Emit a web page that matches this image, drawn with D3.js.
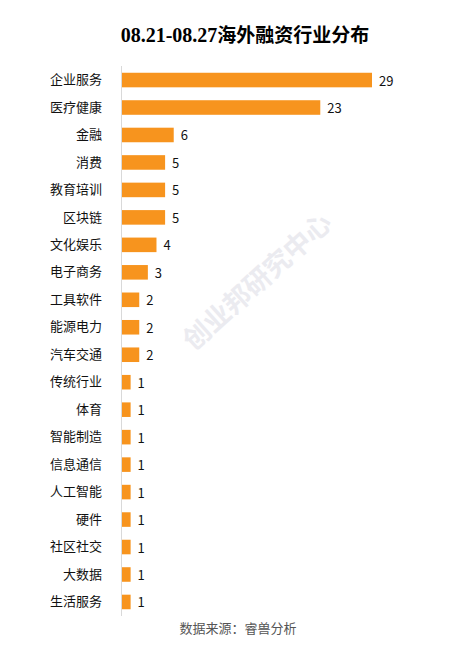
<!DOCTYPE html>
<html>
<head>
<meta charset="utf-8">
<script src="https://cdn.jsdelivr.net/npm/d3@7"></script>
<style>
  body { margin: 0; background: #fff; }
  svg text { font-family: "Microsoft YaHei", "Noto Sans CJK SC", sans-serif; }
</style>
</head>
<body>
<div id="chart"></div>
<script>
const categories = ["企业服务", "医疗健康", "金融", "消费", "教育培训", "区块链", "文化娱乐", "电子商务", "工具软件", "能源电力", "汽车交通", "传统行业", "体育", "智能制造", "信息通信", "人工智能", "硬件", "社区社交", "大数据", "生活服务"];
const values = [29, 23, 6, 5, 5, 5, 4, 3, 2, 2, 2, 1, 1, 1, 1, 1, 1, 1, 1, 1];

const width = 465, height = 653;
const svg = d3.select("#chart").append("svg")
  .attr("width", width)
  .attr("height", height);

// watermark
svg.append("text")
  .attr("transform", "translate(256,280) rotate(-42)")
  .attr("text-anchor", "middle")
  .attr("dominant-baseline", "central")
  .style("font-size", "27px")
  .style("font-weight", "bold")
  .attr("fill", "#ebebf0")
  .text("创业邦研究中心");

// title
const title = svg.append("text")
  .attr("x", 245)
  .attr("y", 42)
  .attr("text-anchor", "middle")
  .style("font-size", "19px")
  .style("font-weight", "bold")
  .attr("fill", "#000");
title.append("tspan").style("font-family", "'Liberation Serif', serif").style("font-size", "20px").text("08.21-08.27");
title.append("tspan").text("海外融资行业分布");

const x = d3.scaleLinear().domain([0, 29]).range([122, 372]);
const y = d3.scaleBand().domain(categories).range([66.3, 615.7]).paddingInner(0.47).paddingOuter(0.235);

svg.append("g")
  .selectAll("rect")
  .data(values)
  .join("rect")
  .attr("x", x(0))
  .attr("y", (d, i) => y(categories[i]))
  .attr("width", d => x(d) - x(0))
  .attr("height", y.bandwidth())
  .attr("fill", "#f7941e");

svg.append("g")
  .selectAll("text")
  .data(values)
  .join("text")
  .attr("x", d => x(d) + 7)
  .attr("y", (d, i) => y(categories[i]) + y.bandwidth() / 2)
  .attr("dominant-baseline", "central")
  .style("font-size", "13px")
  .attr("fill", "#111")
  .text(d => d);

const yAxis = svg.append("g")
  .attr("transform", "translate(121,0)")
  .call(d3.axisLeft(y).tickSize(0).tickPadding(19));
yAxis.select(".domain").attr("stroke", "#d9d9d9").attr("d", "M0.5,66V616");
yAxis.selectAll("text")
  .style("font-size", "13px")
  .attr("fill", "#111");

svg.append("text")
  .attr("x", 238)
  .attr("y", 633)
  .attr("text-anchor", "middle")
  .style("font-size", "13px")
  .attr("fill", "#555")
  .text("数据来源：睿兽分析");
</script>
</body>
</html>
